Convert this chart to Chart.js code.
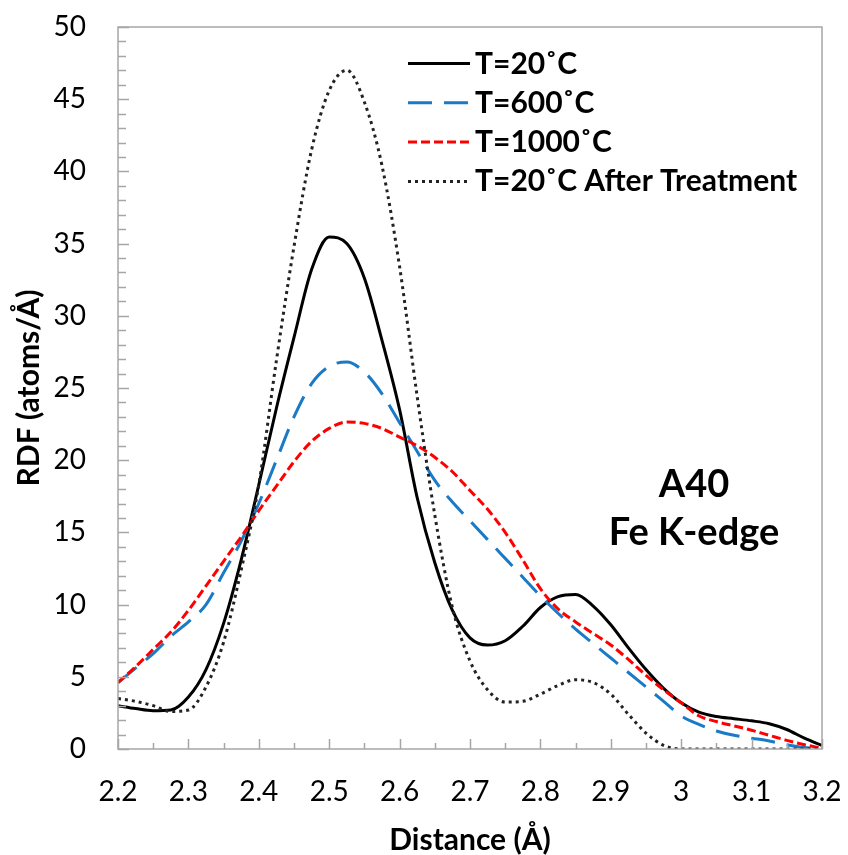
<!DOCTYPE html>
<html>
<head>
<meta charset="utf-8">
<script src="https://cdn.jsdelivr.net/npm/chart.js@4.4.1/dist/chart.umd.min.js"></script>
<style>
  html, body { margin: 0; padding: 0; background: #fff; }
  #wrap { width: 848px; height: 855px; }
</style>
</head>
<body>
<div id="wrap"><canvas id="rdf" width="848" height="855"></canvas></div>
<script>
// Distance grid (Å)
var distance = [2.2, 2.225, 2.25, 2.275, 2.3, 2.325, 2.35, 2.375, 2.4, 2.425,
                2.45, 2.475, 2.5, 2.525, 2.55, 2.575, 2.6, 2.625, 2.65, 2.675,
                2.7, 2.725, 2.75, 2.775, 2.8, 2.825, 2.85, 2.875, 2.9, 2.925,
                2.95, 2.975, 3.0, 3.025, 3.05, 3.075, 3.1, 3.125, 3.15, 3.175, 3.2];

// RDF values (atoms/Å)
var rdf20 = [3.0, 2.8, 2.65, 2.7, 3.6, 5.5, 8.7, 13.1, 18.3, 23.6,
             28.5, 33.2, 35.45, 35.0, 32.6, 28.3, 23.5, 17.4, 12.9, 9.6,
             7.7, 7.2, 7.5, 8.5, 9.8, 10.55, 10.7, 9.9, 8.6, 7.0,
             5.5, 4.2, 3.2, 2.55, 2.25, 2.1, 1.95, 1.75, 1.35, 0.75, 0.25];
var rdf600 = [4.6, 5.6, 6.6, 7.8, 8.8, 10.0, 12.2, 14.4, 17.0, 20.0,
              23.0, 25.3, 26.5, 26.8, 26.1, 24.6, 22.6, 20.6, 18.6, 17.1,
              15.8, 14.5, 13.2, 11.9, 10.6, 9.4, 8.3, 7.3, 6.3, 5.3,
              4.3, 3.3, 2.3, 1.7, 1.25, 0.95, 0.75, 0.55, 0.3, 0.1, 0.0];
var rdf1000 = [4.6, 5.7, 6.9, 8.1, 9.6, 11.3, 13.0, 14.7, 16.5, 18.2,
               19.9, 21.3, 22.2, 22.65, 22.55, 22.2, 21.6, 21.0, 20.2, 19.2,
               17.9, 16.6, 15.0, 13.1, 11.1, 9.7, 8.8, 8.0, 7.2, 6.2,
               5.1, 4.1, 3.2, 2.3, 1.9, 1.6, 1.3, 0.95, 0.6, 0.3, 0.05];
var rdf20after = [3.5, 3.3, 3.0, 2.6, 2.7, 4.3, 7.4, 12.4, 18.3, 26.9,
                  34.8, 41.5, 45.6, 47.0, 44.8, 40.4, 33.4, 24.4, 16.2, 9.8,
                  6.1, 4.1, 3.25, 3.3, 3.8, 4.4, 4.8, 4.6, 3.8, 2.4,
                  1.1, 0.25, 0.0, 0.0, 0.0, 0.0, 0.0, 0.0, 0.0, 0.0, 0.0];

var seriesNames = ['T=20˚C', 'T=600˚C', 'T=1000˚C', 'T=20˚C After Treatment'];
var xTickValues = [2.2, 2.3, 2.4, 2.5, 2.6, 2.7, 2.8, 2.9, 3.0, 3.1, 3.2];
var xTickLabels = ['2.2', '2.3', '2.4', '2.5', '2.6', '2.7', '2.8', '2.9', '3', '3.1', '3.2'];
var noteLines = ['A40', 'Fe K-edge'];

var FONT = 'Lato, "Open Sans", sans-serif';
var AXIS_GREY = '#a6a6a6';

function toPoints(ys) {
    return ys.map(function (y, i) { return { x: distance[i], y: y }; });
}

var styles = [
    { color: '#000000', dash: [], width: 3 },
    { color: '#1a7ac6', dash: [24, 12], width: 3 },
    { color: '#ff0000', dash: [9, 4], width: 3 },
    { color: '#222222', dash: [3, 4], width: 3 }
];
var allSeries = [rdf20, rdf600, rdf1000, rdf20after];

var datasets = allSeries.map(function (ys, i) {
    return {
        label: seriesNames[i],
        data: toPoints(ys),
        borderColor: styles[i].color,
        borderDash: styles[i].dash,
        borderWidth: styles[i].width,
        pointRadius: 0,
        fill: false,
        cubicInterpolationMode: 'monotone'
    };
});
// draw dotted first so the solid line sits on top
datasets.reverse();

// ticks inside the plot, frame, legend and note
var decorPlugin = {
    id: 'decor',
    afterDatasetsDraw: function (chart) {
        var ctx = chart.ctx;
        var a = chart.chartArea;
        var xs = chart.scales.x, ys = chart.scales.y;
        ctx.save();
        ctx.strokeStyle = AXIS_GREY;
        ctx.lineWidth = 1.5;
        ctx.strokeRect(a.left, a.top, a.right - a.left, a.bottom - a.top);

        ctx.beginPath();
        for (var v = 0; v <= 50; v++) {
            var py = Math.round(ys.getPixelForValue(v)) + 0.5;
            var len = (v % 5 === 0) ? 11 : 8;
            ctx.moveTo(a.left, py);
            ctx.lineTo(a.left + len, py);
        }
        for (var k = 0; k <= 20; k++) {
            var px = Math.round(xs.getPixelForValue(2.2 + k * 0.05)) + 0.5;
            var l2 = (k % 2 === 0) ? 10 : 6;
            ctx.moveTo(px, a.bottom);
            ctx.lineTo(px, a.bottom - l2);
        }
        ctx.stroke();

        // legend
        ctx.font = 'bold 30px ' + FONT;
        ctx.textBaseline = 'alphabetic';
        ctx.textAlign = 'left';
        for (var i = 0; i < seriesNames.length; i++) {
            var ly = 63.5 + i * 39.3;
            ctx.beginPath();
            ctx.strokeStyle = styles[i].color;
            ctx.lineWidth = styles[i].width;
            ctx.setLineDash(styles[i].dash);
            ctx.moveTo(408, ly);
            ctx.lineTo(470, ly);
            ctx.stroke();
            ctx.setLineDash([]);
            ctx.fillStyle = '#000';
            ctx.fillText(seriesNames[i], 475, ly + 10);
        }

        // note
        ctx.font = 'bold 38px ' + FONT;
        ctx.textAlign = 'center';
        ctx.fillText(noteLines[0], 694, 497);
        ctx.fillText(noteLines[1], 694, 545);
        ctx.restore();
    }
};

new Chart(document.getElementById('rdf'), {
    type: 'line',
    data: { datasets: datasets },
    options: {
        responsive: false,
        animation: false,
        layout: { padding: { top: 27, right: 26, bottom: 0, left: 0 } },
        plugins: {
            legend: { display: false },
            tooltip: { enabled: false }
        },
        scales: {
            x: {
                type: 'linear',
                min: 2.2,
                max: 3.2,
                afterFit: function (scale) {
                    scale.height = 106;
                    scale.paddingLeft = 0;
                    scale.paddingRight = 0;
                },
                afterBuildTicks: function (scale) {
                    scale.ticks = xTickValues.map(function (v) { return { value: v }; });
                },
                ticks: {
                    color: '#000',
                    font: { family: FONT, size: 28 },
                    padding: 26,
                    maxRotation: 0,
                    autoSkip: false,
                    callback: function (value, index) { return xTickLabels[index]; }
                },
                grid: { display: false, drawTicks: false },
                border: { display: false },
                title: {
                    display: true,
                    text: 'Distance (Å)',
                    color: '#000',
                    font: { family: FONT, size: 30, weight: 'bold' },
                    padding: { top: 0, bottom: -3 }
                }
            },
            y: {
                type: 'linear',
                min: 0,
                max: 50,
                afterFit: function (scale) {
                    scale.width = 118;
                    scale.paddingTop = 0;
                    scale.paddingBottom = 0;
                },
                ticks: {
                    stepSize: 5,
                    color: '#000',
                    font: { family: FONT, size: 28 },
                    padding: 32
                },
                grid: { display: false, drawTicks: false },
                border: { display: false },
                title: {
                    display: true,
                    text: 'RDF (atoms/Å)',
                    color: '#000',
                    font: { family: FONT, size: 30, weight: 'bold' },
                    padding: { top: 11, bottom: 0 }
                }
            }
        }
    },
    plugins: [decorPlugin]
});
</script>
</body>
</html>
